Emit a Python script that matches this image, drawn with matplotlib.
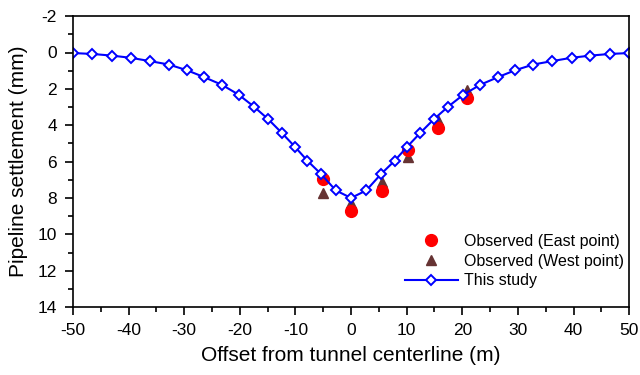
import numpy as np
import matplotlib.pyplot as plt
from matplotlib.ticker import MultipleLocator

plt.rcParams['font.family'] = ['Liberation Sans', 'DejaVu Sans']
plt.rcParams['axes.unicode_minus'] = False

# Predicted settlement profile along the pipeline (this study)
offset_model = [-50, -46.5, -43.05, -39.65, -36.2, -32.8, -29.55, -26.45, -23.2,
                -20.2, -17.45, -14.85, -12.45, -10.1, -7.85, -5.4, -2.75, 0,
                2.75, 5.4, 7.85, 10.1, 12.45, 14.85, 17.45, 20.2, 23.2,
                26.45, 29.55, 32.8, 36.2, 39.65, 43.05, 46.5, 50]
settle_model = [0.03, 0.08, 0.17, 0.29, 0.47, 0.66, 0.97, 1.35, 1.78,
                2.32, 2.98, 3.68, 4.42, 5.18, 5.95, 6.68, 7.58, 8.0,
                7.58, 6.68, 5.95, 5.18, 4.42, 3.68, 2.98, 2.32, 1.78,
                1.35, 0.97, 0.66, 0.47, 0.29, 0.17, 0.08, 0.03]

# Field measurements
offset_obs = [-5.0, 0.0, 5.5, 10.2, 15.6, 20.9]
settle_east = [6.97, 8.71, 7.6, 5.34, 4.17, 2.52]
settle_west = [7.71, 8.29, 7.1, 5.75, 3.71, 2.07]

fig = plt.figure(figsize=(6.4, 3.75), dpi=100)
ax = fig.add_axes([0.114, 0.181, 0.869, 0.776])

h_west, = ax.plot(offset_obs, settle_west, linestyle='none', marker='^',
                  ms=7.5, color='#663333', label='Observed (West point)')
h_east, = ax.plot(offset_obs, settle_east, linestyle='none', marker='o',
                  ms=8.5, color='#ff0000', label='Observed (East point)')
h_model, = ax.plot(offset_model, settle_model, color='#0000ff', lw=1.5,
                   marker='D', ms=5, mfc='white', mec='#0000ff', mew=1.4,
                   label='This study')

ax.set_xlim(-50, 50)
ax.set_ylim(14, -2)
ax.xaxis.set_major_locator(MultipleLocator(10))
ax.xaxis.set_minor_locator(MultipleLocator(5))
ax.yaxis.set_major_locator(MultipleLocator(2))
ax.yaxis.set_minor_locator(MultipleLocator(1))
ax.tick_params(which='both', direction='out', width=1.2, labelsize=12.5,
               top=False, right=False)
ax.tick_params(which='major', length=5.5, pad=6)
ax.tick_params(which='minor', length=3.5)
for s in ax.spines.values():
    s.set_linewidth(1.2)

ax.set_xlabel('Offset from tunnel centerline (m)', fontsize=15, labelpad=6)
ax.set_ylabel('Pipeline settlement (mm)', fontsize=15, labelpad=7)

ax.legend(handles=[h_east, h_west, h_model], loc='upper left',
          bbox_to_anchor=(0.597, 0.252), frameon=False, fontsize=11.5,
          borderpad=0, borderaxespad=0, handlelength=3.3, handletextpad=0.4,
          labelspacing=0.3)

fig.savefig('out.png', dpi=100)
